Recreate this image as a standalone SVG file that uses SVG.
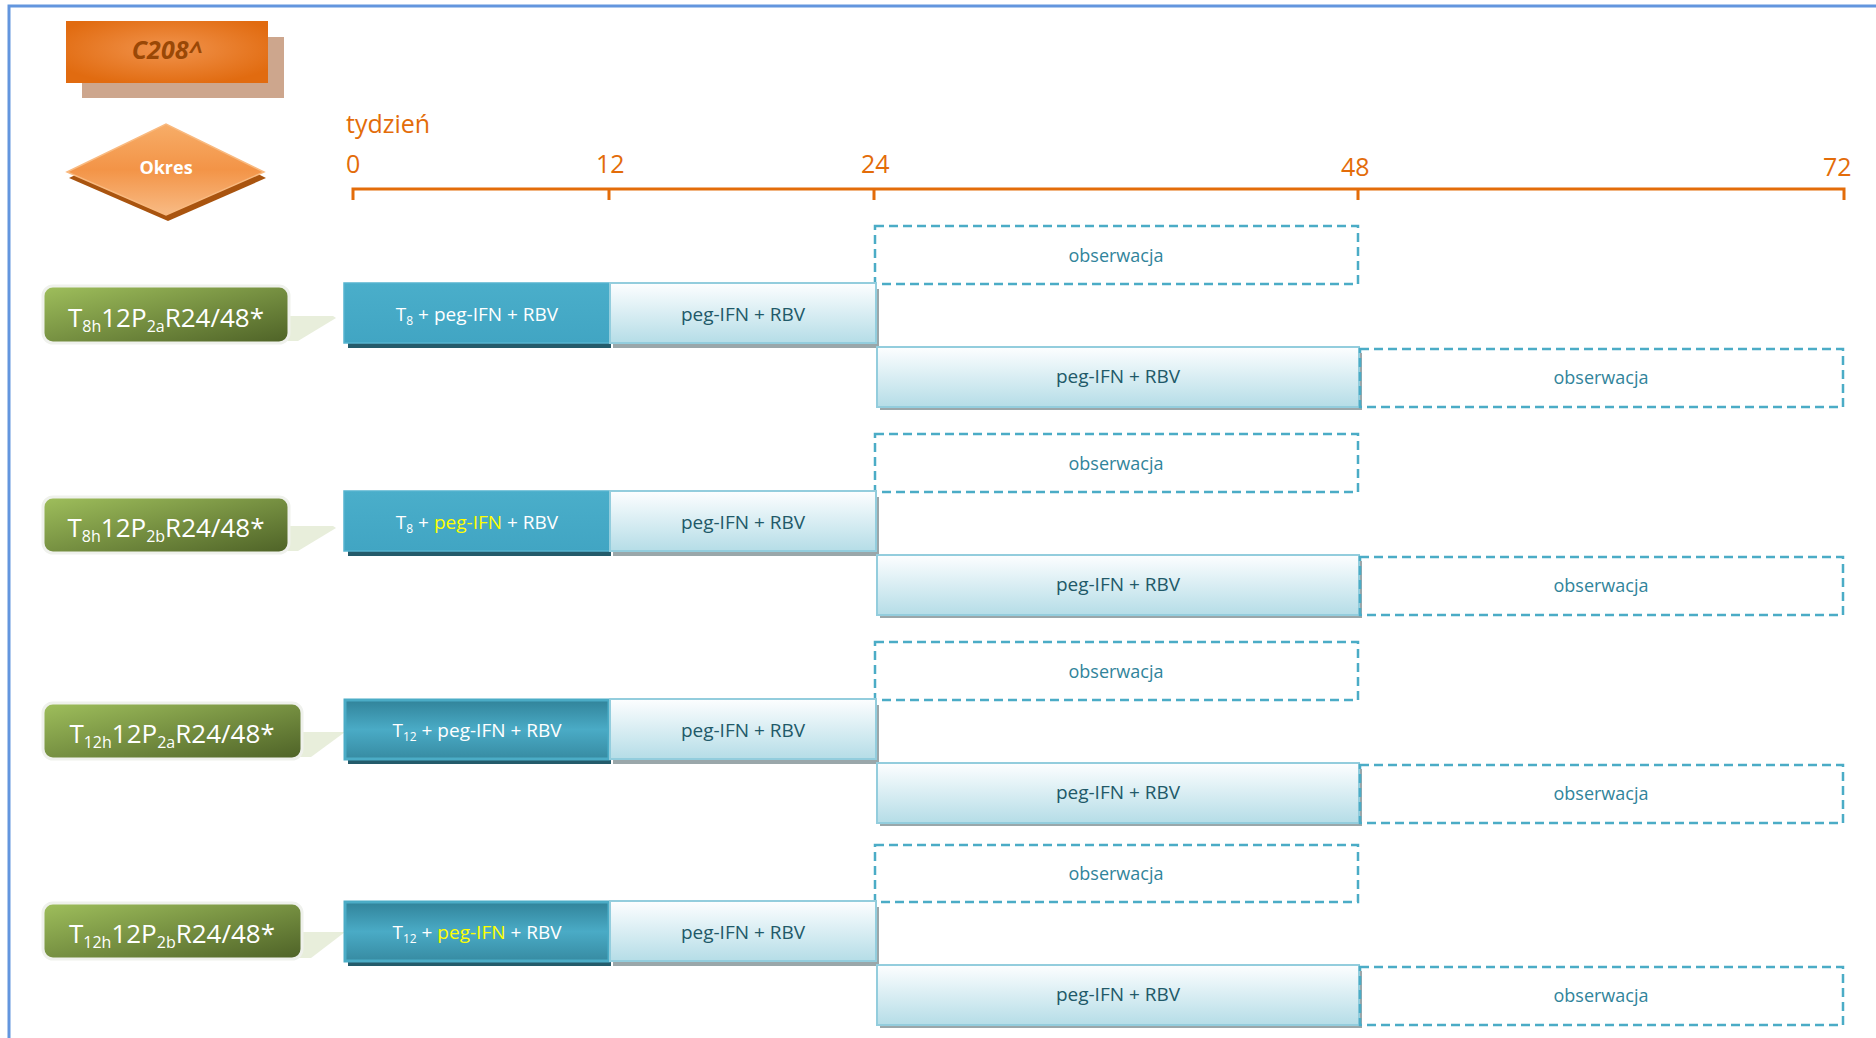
<svg xmlns="http://www.w3.org/2000/svg" width="1876" height="1038" viewBox="0 0 1876 1038">
<defs>
<radialGradient id="gC208" cx="0.5" cy="0.45" r="0.6">
<stop offset="0" stop-color="#f1934c"/>
<stop offset="1" stop-color="#e16b10"/>
</radialGradient>
<linearGradient id="gDia" x1="0" y1="0" x2="0" y2="1">
<stop offset="0" stop-color="#f7ad68"/>
<stop offset="0.5" stop-color="#f39447"/>
<stop offset="1" stop-color="#f8bb85"/>
</linearGradient>
<linearGradient id="gGreen" x1="0" y1="0" x2="1" y2="1">
<stop offset="0" stop-color="#9fbf5c"/>
<stop offset="1" stop-color="#4e6227"/>
</linearGradient>
<linearGradient id="gPeg" x1="0" y1="0" x2="0" y2="1">
<stop offset="0" stop-color="#fdfeff"/>
<stop offset="1" stop-color="#b5dde7"/>
</linearGradient>
<linearGradient id="gT12" x1="0" y1="0" x2="0" y2="1">
<stop offset="0" stop-color="#31839a"/>
<stop offset="0.5" stop-color="#4aabc6"/>
<stop offset="1" stop-color="#378ba2"/>
</linearGradient>
<linearGradient id="gT8" x1="0" y1="0" x2="0" y2="1">
<stop offset="0" stop-color="#4aaeca"/>
<stop offset="1" stop-color="#41a5c3"/>
</linearGradient>
</defs>
<style>
.f{font-family:"Open Sans","Liberation Sans",sans-serif}
.ax{fill:#e36c09;font-size:25px}
.lbl{fill:#ffffff;font-size:26px}
.bt{fill:#ffffff;font-size:19px}
.pt{fill:#215968;font-size:19px}
.ot{fill:#31849b;font-size:18px}
.yl{fill:#ffff00}
.t8{fill:url(#gT8);stroke:#55b4d0;stroke-width:1.5}
.t12{fill:url(#gT12);stroke:#4bacc6;stroke-width:3}
.peg{fill:url(#gPeg);stroke:#93cddd;stroke-width:2}
.obs{fill:none;stroke:#4bacc6;stroke-width:2.5;stroke-dasharray:9 5}
.sd{fill:#245b6b}
.sg{fill:#9aa7aa}
.gl{fill:url(#gGreen);stroke:#eff1ec;stroke-width:3}
.tail{fill:#e8eedb}
</style>
<rect width="1876" height="1038" fill="#ffffff"/>
<g id="frame" fill="none" stroke="#6396de" stroke-width="3">
<path d="M9 1038 V6 H1876"/>
</g>
<g id="title">
<rect x="82" y="37" width="202" height="61" fill="#cda68d"/>
<rect x="66" y="21" width="202" height="62" fill="url(#gC208)"/>
<text x="167" y="59" text-anchor="middle" class="f" font-size="25" font-weight="bold" font-style="italic" fill="#9a4806">C208^</text>
</g>
<g id="okres">
<polygon points="69,178 168,130 266,178 168,221" fill="#a9540f"/>
<polygon points="67,172 166,124 264,172 166,215" fill="url(#gDia)" stroke="#f9ba80" stroke-width="1.5"/>
<text x="166" y="174" text-anchor="middle" class="f" font-size="18" font-weight="bold" fill="#ffffff">Okres</text>
</g>
<g id="axis">
<text x="346" y="133" class="f ax">tydzień</text>
<text x="346" y="173" class="f ax">0</text>
<text x="596" y="173" class="f ax">12</text>
<text x="861" y="173" class="f ax">24</text>
<text x="1341" y="176" class="f ax">48</text>
<text x="1823" y="176" class="f ax">72</text>
<path d="M353 200 V189 H1844 V200 M609 189 V200 M874 189 V200 M1358 189 V200" fill="none" stroke="#e36c09" stroke-width="3"/>
</g>

<g id="row1">
<g id="label1">
<polygon class="tail" points="285,316 333,316 336,318 298,341 285,341"/>
<rect class="gl" x="43" y="286" width="246" height="57" rx="10"/>
<text x="166" y="327" text-anchor="middle" class="f lbl">T<tspan font-size="16" dy="5">8h</tspan><tspan dy="-5">12P</tspan><tspan font-size="16" dy="5">2a</tspan><tspan dy="-5">R24/48*</tspan></text>
</g>
<g id="obs1a"><rect class="obs" x="875" y="226" width="483" height="58"/><text x="1116" y="262" text-anchor="middle" class="f ot">obserwacja</text></g>
<g id="t1"><rect class="sd" x="348" y="343" width="263" height="5"/><rect class="t8" x="344" y="283" width="266" height="60"/><text x="477" y="321" text-anchor="middle" class="f bt">T<tspan font-size="12" dy="4">8</tspan><tspan dy="-4"> + peg-IFN + RBV</tspan></text></g>
<g id="p1a"><rect class="sg" x="613" y="289" width="266" height="59"/><rect class="peg" x="610" y="283" width="266" height="60"/><text x="743" y="321" text-anchor="middle" class="f pt">peg-IFN + RBV</text></g>
<g id="p1b"><rect class="sg" x="880" y="353" width="482" height="57"/><rect class="peg" x="877" y="347" width="482" height="60"/><text x="1118" y="383" text-anchor="middle" class="f pt">peg-IFN + RBV</text></g>
<g id="obs1b"><rect class="obs" x="1360" y="349" width="483" height="58"/><text x="1601" y="384" text-anchor="middle" class="f ot">obserwacja</text></g>
</g>

<g id="row2">
<g id="label2">
<polygon class="tail" points="285,526 333,526 336,528 298,551 285,551"/>
<rect class="gl" x="43" y="497" width="246" height="56" rx="10"/>
<text x="166" y="537" text-anchor="middle" class="f lbl">T<tspan font-size="16" dy="5">8h</tspan><tspan dy="-5">12P</tspan><tspan font-size="16" dy="5">2b</tspan><tspan dy="-5">R24/48*</tspan></text>
</g>
<g id="obs2a"><rect class="obs" x="875" y="434" width="483" height="58"/><text x="1116" y="470" text-anchor="middle" class="f ot">obserwacja</text></g>
<g id="t2"><rect class="sd" x="348" y="551" width="263" height="5"/><rect class="t8" x="344" y="491" width="266" height="60"/><text x="477" y="529" text-anchor="middle" class="f bt">T<tspan font-size="12" dy="4">8</tspan><tspan dy="-4"> + </tspan><tspan class="yl">peg-IFN</tspan> + RBV</text></g>
<g id="p2a"><rect class="sg" x="613" y="497" width="266" height="59"/><rect class="peg" x="610" y="491" width="266" height="60"/><text x="743" y="529" text-anchor="middle" class="f pt">peg-IFN + RBV</text></g>
<g id="p2b"><rect class="sg" x="880" y="561" width="482" height="57"/><rect class="peg" x="877" y="555" width="482" height="60"/><text x="1118" y="591" text-anchor="middle" class="f pt">peg-IFN + RBV</text></g>
<g id="obs2b"><rect class="obs" x="1360" y="557" width="483" height="58"/><text x="1601" y="592" text-anchor="middle" class="f ot">obserwacja</text></g>
</g>

<g id="row3">
<g id="label3">
<polygon class="tail" points="298,732 345,732 311,757 298,757"/>
<rect class="gl" x="43" y="703" width="259" height="56" rx="10"/>
<text x="172" y="743" text-anchor="middle" class="f lbl">T<tspan font-size="16" dy="5">12h</tspan><tspan dy="-5">12P</tspan><tspan font-size="16" dy="5">2a</tspan><tspan dy="-5">R24/48*</tspan></text>
</g>
<g id="obs3a"><rect class="obs" x="875" y="642" width="483" height="58"/><text x="1116" y="678" text-anchor="middle" class="f ot">obserwacja</text></g>
<g id="t3"><rect class="sd" x="348" y="759" width="263" height="5"/><rect class="t12" x="345" y="700" width="264" height="59"/><text x="477" y="737" text-anchor="middle" class="f bt">T<tspan font-size="12" dy="4">12</tspan><tspan dy="-4"> + peg-IFN + RBV</tspan></text></g>
<g id="p3a"><rect class="sg" x="613" y="705" width="266" height="59"/><rect class="peg" x="610" y="699" width="266" height="60"/><text x="743" y="737" text-anchor="middle" class="f pt">peg-IFN + RBV</text></g>
<g id="p3b"><rect class="sg" x="880" y="769" width="482" height="57"/><rect class="peg" x="877" y="763" width="482" height="60"/><text x="1118" y="799" text-anchor="middle" class="f pt">peg-IFN + RBV</text></g>
<g id="obs3b"><rect class="obs" x="1360" y="765" width="483" height="58"/><text x="1601" y="800" text-anchor="middle" class="f ot">obserwacja</text></g>
</g>

<g id="row4">
<g id="label4">
<polygon class="tail" points="298,932 345,932 311,958 298,958"/>
<rect class="gl" x="43" y="903" width="259" height="56" rx="10"/>
<text x="172" y="943" text-anchor="middle" class="f lbl">T<tspan font-size="16" dy="5">12h</tspan><tspan dy="-5">12P</tspan><tspan font-size="16" dy="5">2b</tspan><tspan dy="-5">R24/48*</tspan></text>
</g>
<g id="obs4a"><rect class="obs" x="875" y="845" width="483" height="57"/><text x="1116" y="880" text-anchor="middle" class="f ot">obserwacja</text></g>
<g id="t4"><rect class="sd" x="348" y="961" width="263" height="5"/><rect class="t12" x="345" y="902" width="264" height="59"/><text x="477" y="939" text-anchor="middle" class="f bt">T<tspan font-size="12" dy="4">12</tspan><tspan dy="-4"> + </tspan><tspan class="yl">peg-IFN</tspan> + RBV</text></g>
<g id="p4a"><rect class="sg" x="613" y="907" width="266" height="59"/><rect class="peg" x="610" y="901" width="266" height="60"/><text x="743" y="939" text-anchor="middle" class="f pt">peg-IFN + RBV</text></g>
<g id="p4b"><rect class="sg" x="880" y="971" width="482" height="57"/><rect class="peg" x="877" y="965" width="482" height="60"/><text x="1118" y="1001" text-anchor="middle" class="f pt">peg-IFN + RBV</text></g>
<g id="obs4b"><rect class="obs" x="1360" y="967" width="483" height="58"/><text x="1601" y="1002" text-anchor="middle" class="f ot">obserwacja</text></g>
</g>
</svg>
